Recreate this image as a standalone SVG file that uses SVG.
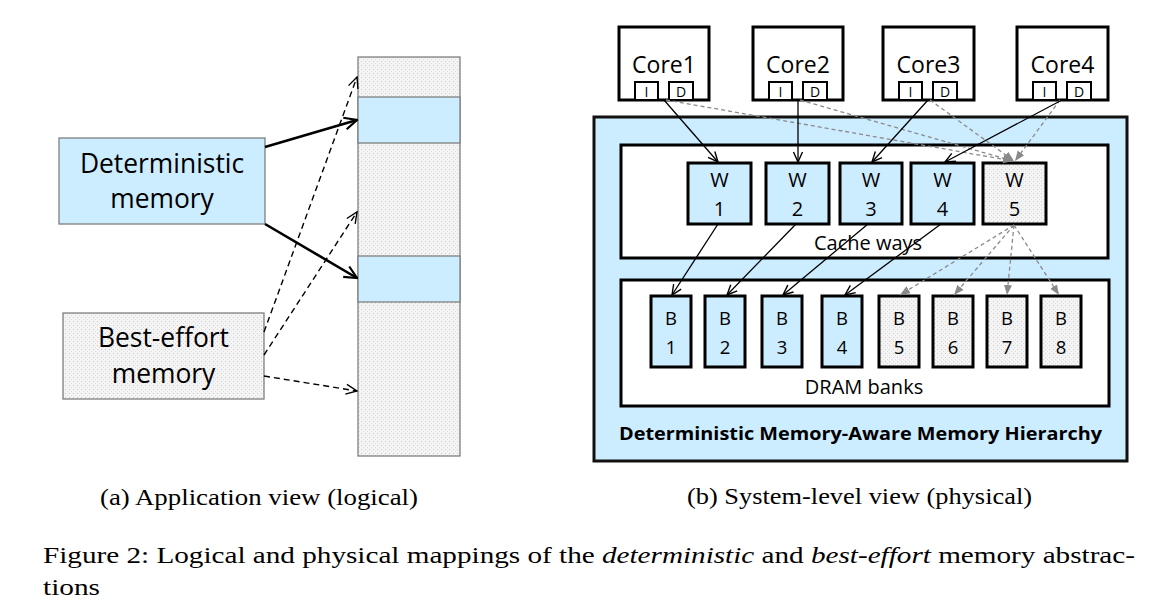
<svg xmlns="http://www.w3.org/2000/svg" width="1164" height="608" viewBox="0 0 1164 608">
<style>
.sans{font-family:"Open Sans","DejaVu Sans",sans-serif;fill:#000;text-anchor:middle}
.serif{font-family:"Liberation Serif","Times New Roman",serif;fill:#000}
.lbox{stroke:#7f7f7f;stroke-width:1.3}
.hbox{stroke:#000;stroke-width:3;fill:#fff}
.sbox{stroke:#000;stroke-width:2;fill:#fff}
rect.blue{fill:#ccecff}
rect.dots{fill:url(#dots)}
.blk{stroke:#000;stroke-width:1.3;fill:none;marker-end:url(#ah)}
.gry{stroke:#8a8a8a;stroke-width:1.3;fill:none;stroke-dasharray:4 3;marker-end:url(#ahg)}
.thick{stroke:#000;stroke-width:2.6;fill:none;marker-end:url(#ahL)}
.dash{stroke:#000;stroke-width:1.4;fill:none;stroke-dasharray:6 4;marker-end:url(#ahD)}
</style>
<defs>
<pattern id="dots" width="4" height="4" patternUnits="userSpaceOnUse">
<rect width="4" height="4" fill="#f4f4f4"/>
<rect x="1" y="1" width="1" height="1" fill="#cfcfcf"/>
<rect x="3" y="3" width="1" height="1" fill="#dedede"/>
</pattern>
<marker id="ah" markerUnits="userSpaceOnUse" markerWidth="12" markerHeight="12" viewBox="0 0 12 12" refX="11" refY="6" orient="auto">
<path d="M1,1.5 L11,6 L1,10.5" fill="none" stroke="#000" stroke-width="1.4"/>
</marker>
<marker id="ahg" markerUnits="userSpaceOnUse" markerWidth="11" markerHeight="10" viewBox="0 0 11 10" refX="10" refY="5" orient="auto">
<path d="M0,1 L10,5 L0,9 Z" fill="#8a8a8a"/>
</marker>
<marker id="ahL" markerUnits="userSpaceOnUse" markerWidth="16" markerHeight="16" viewBox="0 0 16 16" refX="14.5" refY="8" orient="auto">
<path d="M2,2 L14.5,8 L2,14" fill="none" stroke="#000" stroke-width="2.2"/>
</marker>
<marker id="ahD" markerUnits="userSpaceOnUse" markerWidth="14" markerHeight="14" viewBox="0 0 14 14" refX="13" refY="7" orient="auto">
<path d="M2,2 L13,7 L2,12" fill="none" stroke="#000" stroke-width="1.4"/>
</marker>
</defs>
<rect width="1164" height="608" fill="#fff"/>

<!-- (a) Application view -->
<g id="memory-column">
<rect class="lbox dots" x="358" y="57" width="102" height="399"/>
<rect class="lbox blue" x="358" y="97" width="102" height="46"/>
<rect class="lbox blue" x="358" y="256" width="102" height="46"/>
</g>
<g id="deterministic-memory">
<rect class="lbox blue" x="59" y="138" width="206" height="86"/>
<text class="sans" x="162" y="173" font-size="26.4">Deterministic</text>
<text class="sans" x="162" y="208" font-size="26.4">memory</text>
</g>
<g id="best-effort-memory">
<rect class="lbox dots" x="63" y="313" width="201" height="86"/>
<text class="sans" x="163.5" y="347" font-size="26.4">Best-effort</text>
<text class="sans" x="163.5" y="383" font-size="26.4">memory</text>
</g>

<!-- (b) System-level view -->
<g id="hierarchy">
<rect x="594" y="117" width="533" height="344" fill="#ccecff" stroke="#111" stroke-width="3"/>
<text class="sans" x="860.5" y="440" font-size="18.5" font-weight="bold" textLength="483" lengthAdjust="spacingAndGlyphs">Deterministic Memory-Aware Memory Hierarchy</text>
</g>
<g id="cache-ways">
<rect class="hbox" x="621" y="145" width="487" height="113"/>
<text class="sans" x="868" y="250" font-size="20">Cache ways</text>
</g>
<g id="dram-banks">
<rect class="hbox" x="621" y="280" width="488" height="126"/>
<text class="sans" x="864" y="394" font-size="20">DRAM banks</text>
</g>

<g id="core1">
<rect class="hbox" x="619" y="27" width="90" height="73"/>
<text class="sans" x="664" y="73" font-size="23">Core1</text>
<rect class="sbox" x="635" y="82" width="23" height="18"/>
<text class="sans" x="646.5" y="97" font-size="14">I</text>
<rect class="sbox" x="669" y="82" width="24" height="18"/>
<text class="sans" x="681" y="97" font-size="14">D</text>
</g>
<g id="core2">
<rect class="hbox" x="753" y="27" width="90" height="73"/>
<text class="sans" x="798" y="73" font-size="23">Core2</text>
<rect class="sbox" x="769" y="82" width="23" height="18"/>
<text class="sans" x="780.5" y="97" font-size="14">I</text>
<rect class="sbox" x="803" y="82" width="24" height="18"/>
<text class="sans" x="815" y="97" font-size="14">D</text>
</g>
<g id="core3">
<rect class="hbox" x="883" y="27" width="91" height="73"/>
<text class="sans" x="928.5" y="73" font-size="23">Core3</text>
<rect class="sbox" x="899" y="82" width="23" height="18"/>
<text class="sans" x="910.5" y="97" font-size="14">I</text>
<rect class="sbox" x="933" y="82" width="24" height="18"/>
<text class="sans" x="945" y="97" font-size="14">D</text>
</g>
<g id="core4">
<rect class="hbox" x="1017" y="27" width="91" height="73"/>
<text class="sans" x="1062.5" y="73" font-size="23">Core4</text>
<rect class="sbox" x="1033" y="82" width="23" height="18"/>
<text class="sans" x="1044.5" y="97" font-size="14">I</text>
<rect class="sbox" x="1067" y="82" width="24" height="18"/>
<text class="sans" x="1079" y="97" font-size="14">D</text>
</g>

<g id="w1"><rect class="hbox blue" x="688" y="163" width="63" height="61"/><text class="sans" x="719.5" y="187" font-size="20">W</text><text class="sans" x="719.5" y="216" font-size="20">1</text></g>
<g id="w2"><rect class="hbox blue" x="766" y="163" width="63" height="61"/><text class="sans" x="797.5" y="187" font-size="20">W</text><text class="sans" x="797.5" y="216" font-size="20">2</text></g>
<g id="w3"><rect class="hbox blue" x="840" y="163" width="62" height="61"/><text class="sans" x="871" y="187" font-size="20">W</text><text class="sans" x="871" y="216" font-size="20">3</text></g>
<g id="w4"><rect class="hbox blue" x="911" y="163" width="63" height="61"/><text class="sans" x="942.5" y="187" font-size="20">W</text><text class="sans" x="942.5" y="216" font-size="20">4</text></g>
<g id="w5"><rect class="hbox dots" x="983" y="163" width="63" height="61"/><text class="sans" x="1014.5" y="187" font-size="20">W</text><text class="sans" x="1014.5" y="216" font-size="20">5</text></g>

<g id="b1"><rect class="hbox blue" x="651" y="296" width="40" height="71"/><text class="sans" x="671" y="325" font-size="18.5">B</text><text class="sans" x="671" y="354" font-size="18.5">1</text></g>
<g id="b2"><rect class="hbox blue" x="705" y="296" width="40" height="71"/><text class="sans" x="725" y="325" font-size="18.5">B</text><text class="sans" x="725" y="354" font-size="18.5">2</text></g>
<g id="b3"><rect class="hbox blue" x="762" y="296" width="40" height="71"/><text class="sans" x="782" y="325" font-size="18.5">B</text><text class="sans" x="782" y="354" font-size="18.5">3</text></g>
<g id="b4"><rect class="hbox blue" x="822" y="296" width="40" height="71"/><text class="sans" x="842" y="325" font-size="18.5">B</text><text class="sans" x="842" y="354" font-size="18.5">4</text></g>
<g id="b5"><rect class="hbox dots" x="879" y="296" width="40" height="71"/><text class="sans" x="899" y="325" font-size="18.5">B</text><text class="sans" x="899" y="354" font-size="18.5">5</text></g>
<g id="b6"><rect class="hbox dots" x="933" y="296" width="40" height="71"/><text class="sans" x="953" y="325" font-size="18.5">B</text><text class="sans" x="953" y="354" font-size="18.5">6</text></g>
<g id="b7"><rect class="hbox dots" x="987" y="296" width="40" height="71"/><text class="sans" x="1007" y="325" font-size="18.5">B</text><text class="sans" x="1007" y="354" font-size="18.5">7</text></g>
<g id="b8"><rect class="hbox dots" x="1041" y="296" width="40" height="71"/><text class="sans" x="1061" y="325" font-size="18.5">B</text><text class="sans" x="1061" y="354" font-size="18.5">8</text></g>

<g id="connectors">
<!-- left panel -->
<line class="thick" x1="265" y1="147" x2="357" y2="120"/>
<line class="thick" x1="265" y1="224" x2="357" y2="278"/>
<line class="dash" x1="264" y1="332" x2="357" y2="77"/>
<line class="dash" x1="264" y1="355" x2="357" y2="212"/>
<line class="dash" x1="264" y1="376" x2="357" y2="391"/>
<!-- cores to ways -->
<line class="gry" x1="666" y1="100" x2="1013" y2="161"/>
<line class="gry" x1="800" y1="100" x2="1013" y2="161"/>
<line class="gry" x1="930" y1="100" x2="1014" y2="161"/>
<line class="gry" x1="1060" y1="100" x2="1015" y2="161"/>
<line class="blk" x1="664" y1="100" x2="718" y2="162"/>
<line class="blk" x1="798" y1="100" x2="798" y2="162"/>
<line class="blk" x1="928" y1="100" x2="872" y2="162"/>
<line class="blk" x1="1062" y1="100" x2="945" y2="162"/>
<!-- ways to banks -->
<line class="blk" x1="718" y1="224" x2="672" y2="295"/>
<line class="blk" x1="796" y1="224" x2="727" y2="295"/>
<line class="blk" x1="868" y1="224" x2="783" y2="295"/>
<line class="blk" x1="941" y1="224" x2="845" y2="295"/>
<line class="gry" x1="1014" y1="225" x2="900" y2="295"/>
<line class="gry" x1="1014" y1="225" x2="954" y2="295"/>
<line class="gry" x1="1014" y1="225" x2="1007" y2="295"/>
<line class="gry" x1="1014" y1="225" x2="1059" y2="295"/>
</g>

<g id="captions">
<text class="serif" x="100" y="505" font-size="24" textLength="318" lengthAdjust="spacingAndGlyphs">(a) Application view (logical)</text>
<text class="serif" x="687" y="504" font-size="24" textLength="345" lengthAdjust="spacingAndGlyphs">(b) System-level view (physical)</text>
<text class="serif" x="43" y="563" font-size="24" textLength="1092" lengthAdjust="spacingAndGlyphs">Figure 2: Logical and physical mappings of the <tspan font-style="italic">deterministic</tspan> and <tspan font-style="italic">best-effort</tspan> memory abstrac-</text>
<text class="serif" x="43" y="595" font-size="24" textLength="57" lengthAdjust="spacingAndGlyphs">tions</text>
</g>
</svg>
